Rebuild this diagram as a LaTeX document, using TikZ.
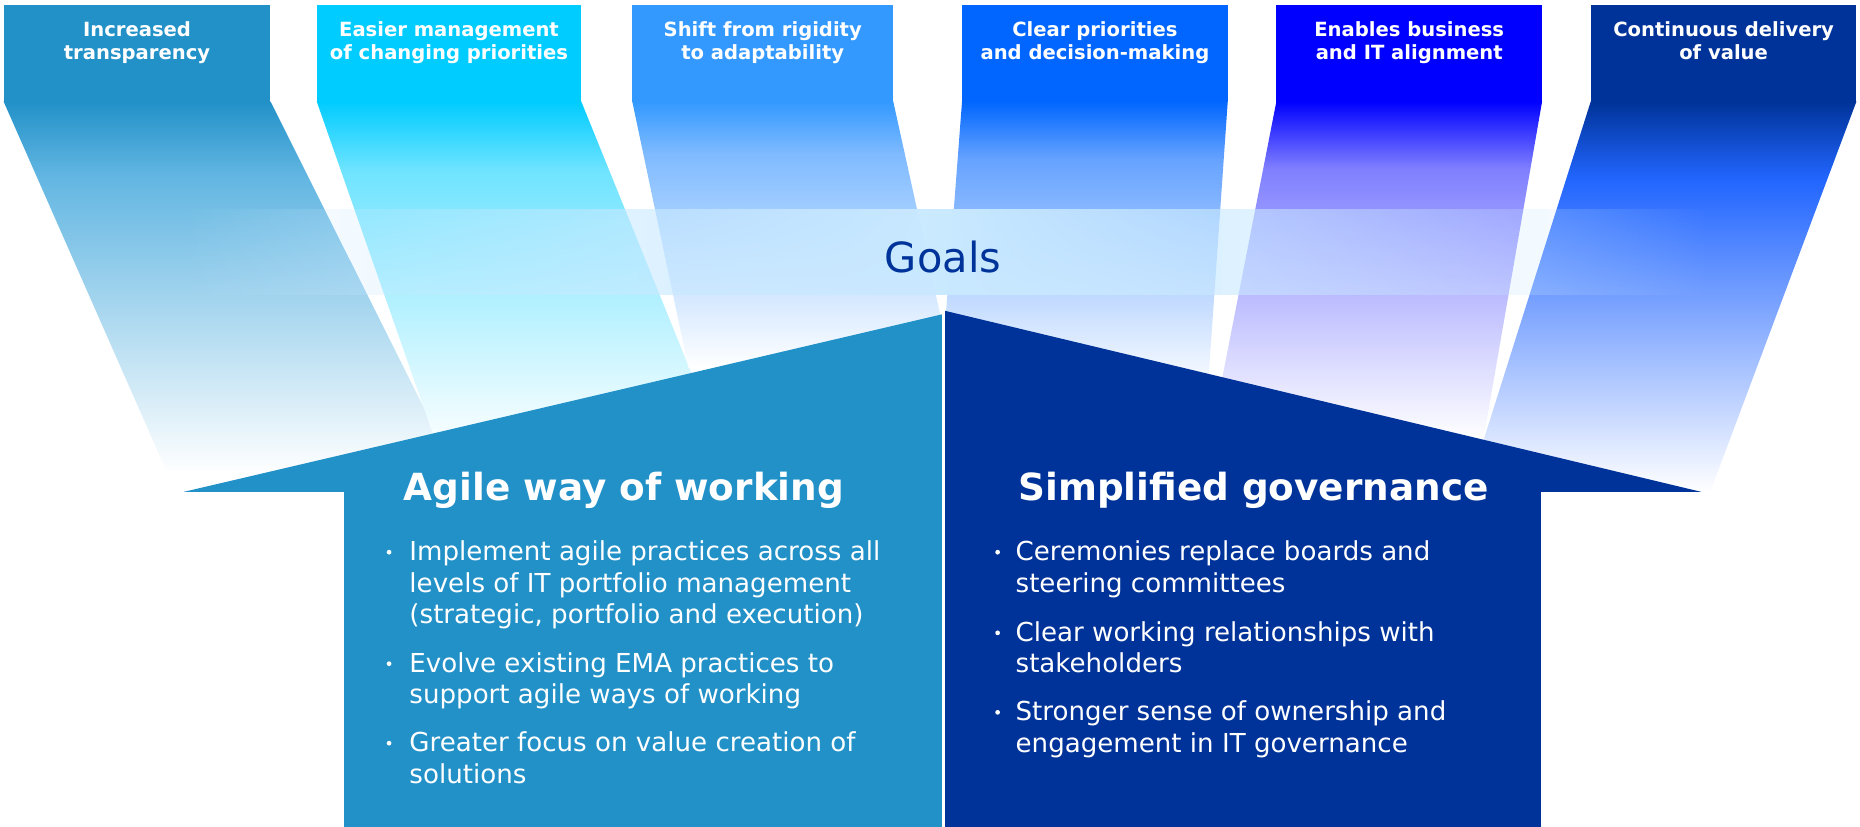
\documentclass[tikz,border=0pt]{standalone}
\usepackage{fontspec}
\setmainfont{DejaVu Sans}
\usetikzlibrary{fadings}

\definecolor{agileblue}{RGB}{34,145,200}
\definecolor{cyanblue}{RGB}{0,204,255}
\definecolor{skyblue}{RGB}{51,153,255}
\definecolor{brightblue}{RGB}{0,102,255}
\definecolor{pureblue}{RGB}{0,0,255}
\definecolor{navyblue}{RGB}{0,51,153}
\definecolor{goalsblue}{RGB}{201,233,255}

\definecolor{agilemid}{RGB}{98,182,226}
\definecolor{cyanmid}{RGB}{112,228,255}
\definecolor{skymid}{RGB}{128,187,255}
\definecolor{brightmid}{RGB}{102,163,255}
\definecolor{puremid}{RGB}{128,128,255}
\definecolor{navymid}{RGB}{34,102,255}

\newcommand{\bandshade}[3]{\pgfdeclareverticalshading{#1}{100bp}{color(0bp)=(white); color(25bp)=(white); color(65bp)=(#3); color(75bp)=(#2); color(100bp)=(#2)}}
\bandshade{bandone}{agileblue}{agilemid}
\bandshade{bandtwo}{cyanblue}{cyanmid}
\bandshade{bandthree}{skyblue}{skymid}
\bandshade{bandfour}{brightblue}{brightmid}
\bandshade{bandfive}{pureblue}{puremid}
\bandshade{bandsix}{navyblue}{navymid}

\tikzfading[name=goalsfade, left color=transparent!100, right color=transparent!100, middle color=transparent!0]

\tikzset{
  boxtext/.style={text=white, font=\bfseries\fontsize{16.5}{19}\selectfont, align=center, anchor=north, inner sep=0pt},
  heading/.style={text=white, font=\bfseries\fontsize{31.5}{36}\selectfont, anchor=base, inner sep=0pt},
  itemtext/.style={text=white, font=\fontsize{22}{26.7}\selectfont, align=left, anchor=north west, inner sep=0pt},
  bul/.style={circle, fill=white, inner sep=0pt, minimum size=4pt},
  goalslabel/.style={text=navyblue, font=\fontsize{35}{40}\selectfont, anchor=base, inner sep=0pt}
}

\begin{document}
\begin{tikzpicture}[x=1pt, y=-1pt]
\useasboundingbox (0,0) rectangle (1568,697);

\fill [agileblue] (3,4) rectangle (228,86);
\fill [cyanblue] (267,4) rectangle (490,86);
\fill [skyblue] (533,4) rectangle (753,86);
\fill [brightblue] (811,4) rectangle (1035,86);
\fill [pureblue] (1076,4) rectangle (1300,86);
\fill [navyblue] (1341,4) rectangle (1565,86);

\node [boxtext] (goal1) at (115.5,18) {Increased\\transparency};
\node [boxtext] (goal2) at (378.5,18) {Easier management\\of changing priorities};
\node [boxtext] (goal3) at (643,18) {Shift from rigidity\\to adaptability};
\node [boxtext] (goal4) at (923,18) {Clear priorities\\and decision-making};
\node [boxtext] (goal5) at (1188,18) {Enables business\\and IT alignment};
\node [boxtext] (goal6) at (1453,18) {Continuous delivery\\of value};

\shade [shading=bandone] (3,85.5) -- (228,85.5) -- (385.5,400) -- (141.6,400) -- cycle;
\shade [shading=bandtwo] (267,85.5) -- (490,85.5) -- (609.4,380) -- (369.9,380) -- cycle;
\shade [shading=bandthree] (533,85.5) -- (753,85.5) -- (802.5,310) -- (580.3,310) -- cycle;
\shade [shading=bandfour] (811,85.5) -- (1035,85.5) -- (1018,330) -- (792.4,330) -- cycle;
\shade [shading=bandfive] (1076,85.5) -- (1300,85.5) -- (1250.6,370) -- (1020.3,370) -- cycle;
\shade [shading=bandsix] (1341,85.5) -- (1565,85.5) -- (1441.6,415) -- (1236.7,415) -- cycle;

\fill [goalsblue, path fading=goalsfade] (150,176) rectangle (1440,248.7);
\node [goalslabel] (goals) at (795,229.6) {Goals};

\fill [agileblue] (794,265) -- (155,414.6) -- (290,414.6) -- (290,697) -- (794,697) -- cycle;
\fill [navyblue] (796.6,262) -- (1434,414.6) -- (1299,414.6) -- (1299,697) -- (796.6,697) -- cycle;
\draw [white, line width=2.6pt] (795.3,262) -- (795.3,697);

\node [heading] (agile) at (526,421.6) {Agile way of working};
\node [heading] (gov) at (1056.7,421.6) {Simplified governance};

\node [itemtext] (agile1) at (345,455.7) {Implement  agile practices across all\\levels of IT portfolio management\\(strategic, portfolio and execution)};
\node [itemtext] (agile2) at (345,549.7) {Evolve existing EMA practices to\\support agile ways of working};
\node [itemtext] (agile3) at (345,616.7) {Greater focus on value creation of\\solutions};
\node [bul] (dot1) at (328,465.5) {};
\node [bul] (dot2) at (328,559.5) {};
\node [bul] (dot3) at (328,626.5) {};

\node [itemtext] (gov1) at (856,455.7) {Ceremonies replace boards and\\steering committees};
\node [itemtext] (gov2) at (856,523.7) {Clear working relationships with\\stakeholders};
\node [itemtext] (gov3) at (856,590.7) {Stronger sense of ownership and\\engagement in IT governance};
\node [bul] (dot4) at (841,465.5) {};
\node [bul] (dot5) at (841,533.5) {};
\node [bul] (dot6) at (841,600.5) {};
\end{tikzpicture}
\end{document}
